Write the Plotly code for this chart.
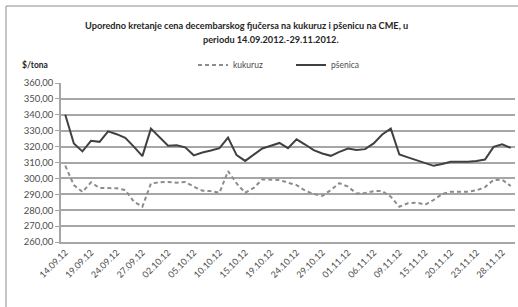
import plotly.graph_objects as go

dates = [
    "14.09.12", "17.09.12", "18.09.12", "19.09.12", "20.09.12", "21.09.12",
    "24.09.12", "25.09.12", "26.09.12", "27.09.12", "28.09.12", "01.10.12",
    "02.10.12", "03.10.12", "04.10.12", "05.10.12", "08.10.12", "09.10.12",
    "10.10.12", "11.10.12", "12.10.12", "15.10.12", "16.10.12", "17.10.12",
    "19.10.12", "22.10.12", "23.10.12", "24.10.12", "25.10.12", "26.10.12",
    "29.10.12", "30.10.12", "31.10.12", "01.11.12", "02.11.12", "05.11.12",
    "06.11.12", "07.11.12", "08.11.12", "09.11.12", "12.11.12", "13.11.12",
    "15.11.12", "16.11.12", "19.11.12", "20.11.12", "21.11.12", "22.11.12",
    "23.11.12", "26.11.12", "27.11.12", "28.11.12", "29.11.12",
]

kukuruz = [
    308.0, 295.8, 291.5, 297.5, 294.0, 294.0, 293.8, 292.7, 285.4, 282.2,
    296.8, 297.5, 297.8, 297.3, 297.8, 294.8, 292.3, 292.0, 291.0, 304.6,
    296.8, 291.0, 294.0, 299.4, 299.4, 299.0, 297.3, 295.8, 292.3, 290.2,
    289.0, 292.7, 297.0, 294.8, 290.5, 290.8, 292.0, 292.0, 288.5, 282.2,
    284.4, 284.8, 283.5, 286.4, 290.2, 291.6, 291.6, 291.6, 292.5, 294.5,
    299.0, 299.2, 295.2,
]

psenica = [
    340.0, 322.0, 317.0, 323.6, 323.0, 329.6, 327.8, 325.5, 320.0, 314.0,
    331.3, 326.0, 320.5, 320.9, 319.5, 314.5, 316.3, 317.5, 319.0, 325.7,
    314.6, 311.0, 315.0, 318.8, 320.5, 322.3, 319.0, 324.6, 321.3, 317.8,
    315.7, 314.2, 316.7, 318.8, 317.8, 318.4, 322.0, 327.6, 331.3, 315.0,
    313.2, 311.5, 310.0, 307.9, 309.0, 310.4, 310.4, 310.4, 310.9, 311.9,
    319.8, 321.5, 319.2,
]

title_line1 = "Uporedno kretanje cena decembarskog fjučersa na kukuruz i pšenicu na CME, u"
title_line2 = "periodu 14.09.2012.-29.11.2012."
y_title = "$/tona"

idx = list(range(len(dates)))
tick_idx = idx[::3]
tick_txt = [dates[i] for i in tick_idx]

FONT = "Lato"
TXT = "#4d4d4d"

fig = go.Figure()
fig.add_trace(go.Scatter(
    x=idx, y=kukuruz, name="kukuruz", mode="lines",
    line=dict(color="#8c8c8c", width=2, dash="4px,3px"),
))
fig.add_trace(go.Scatter(
    x=idx, y=psenica, name="pšenica", mode="lines",
    line=dict(color="#404040", width=2),
))

W, H = 518, 307
L, R, T, B = 61, 3, 83, 65
pw, ph = W - L - R, H - T - B

def px(x):
    return (x - L) / pw

def py(y):
    return (H - B - y) / ph

fig.update_layout(
    width=W, height=H,
    margin=dict(l=L, r=R, t=T, b=B),
    paper_bgcolor="white", plot_bgcolor="white",
    separators=",.",
    font=dict(family=FONT, size=9, color=TXT),
    showlegend=True,
    legend=dict(
        orientation="h", x=px(193), y=py(65), xanchor="left", yanchor="middle",
        font=dict(family=FONT, size=8.5, color=TXT),
        itemwidth=30, entrywidth=53, entrywidthmode="pixels",
        bgcolor="rgba(0,0,0,0)",
    ),
    xaxis=dict(
        range=[-0.5, len(dates) - 0.5],
        tickmode="array", tickvals=tick_idx, ticktext=tick_txt,
        tickangle=-45, showgrid=False, zeroline=False,
        showline=True, linecolor="#a6a6a6", linewidth=1.5,
        tickfont=dict(family=FONT, size=9, color=TXT),
        ticks="", fixedrange=True,
    ),
    yaxis=dict(
        range=[260, 360], dtick=10, tickformat=".2f",
        showgrid=True, gridcolor="#a6a6a6", gridwidth=1.5,
        zeroline=False, showline=True, linecolor="#a6a6a6", linewidth=1.5,
        ticks="outside", ticklen=4, tickcolor="#a6a6a6",
        tickfont=dict(family=FONT, size=9.5, color=TXT),
        fixedrange=True,
    ),
    annotations=[
        dict(text="<b>" + title_line1 + "</b>", x=px(246), y=py(25),
             xref="paper", yref="paper", showarrow=False, xanchor="center",
             yanchor="middle", font=dict(family=FONT, size=9.2, color="#262626")),
        dict(text="<b>" + title_line2 + "</b>", x=px(271), y=py(39),
             xref="paper", yref="paper", showarrow=False, xanchor="center",
             yanchor="middle", font=dict(family=FONT, size=9.2, color="#262626")),
        dict(text="<b>" + y_title + "</b>", x=px(20), y=py(65),
             xref="paper", yref="paper", showarrow=False, xanchor="left",
             yanchor="middle", font=dict(family=FONT, size=8.5, color="#262626")),
    ],
    shapes=[
        dict(type="rect", xref="paper", yref="paper",
             x0=px(6), y0=py(320), x1=px(530), y1=py(6),
             line=dict(color="#8c8c8c", width=1), fillcolor="rgba(0,0,0,0)",
             layer="below"),
    ],
)

fig.write_html("out.html", config={"displayModeBar": False},
               post_script="document.body.style.margin='0';")
